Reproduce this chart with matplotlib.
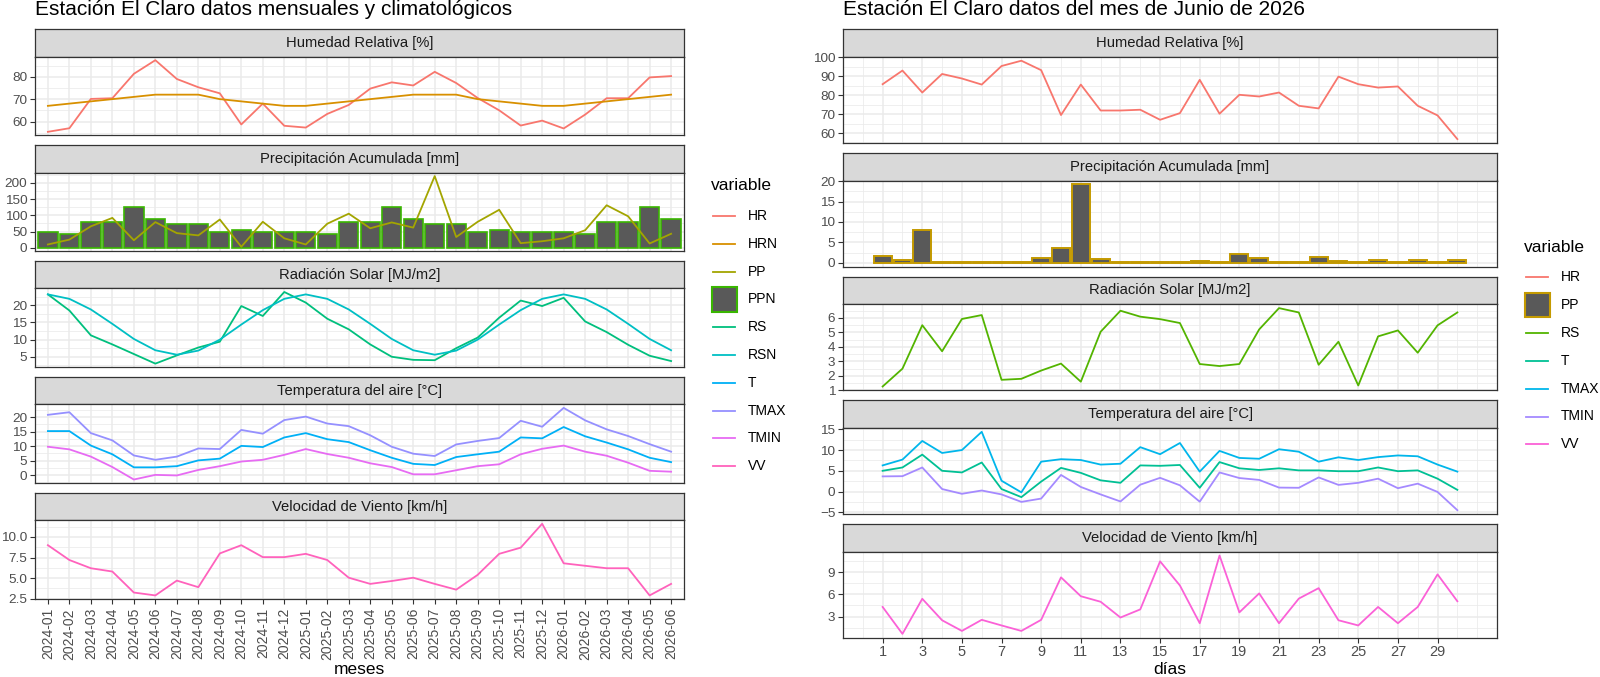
import matplotlib
matplotlib.use("Agg")
import matplotlib.pyplot as plt
from matplotlib.ticker import MultipleLocator, FixedLocator, FormatStrFormatter
from matplotlib.patches import Rectangle
from matplotlib.lines import Line2D
import numpy as np

plt.rcParams['font.family'] = ['Liberation Sans', 'DejaVu Sans']

# ---------------- monthly data ----------------
meses = ["2024-01", "2024-02", "2024-03", "2024-04", "2024-05", "2024-06",
         "2024-07", "2024-08", "2024-09", "2024-10", "2024-11", "2024-12",
         "2025-01", "2025-02", "2025-03", "2025-04", "2025-05", "2025-06",
         "2025-07", "2025-08", "2025-09", "2025-10", "2025-11", "2025-12",
         "2026-01", "2026-02", "2026-03", "2026-04", "2026-05", "2026-06"]
HR = [55.4, 57.0, 70.1, 70.4, 81.3, 87.4, 79.0, 75.3, 72.6, 58.7, 68.0, 58.1,
      57.3, 63.4, 67.4, 74.7, 77.5, 76.1, 82.2, 77.2, 70.5, 65.0, 58.2, 60.4,
      56.9, 63.1, 70.4, 70.4, 79.7, 80.3]
HRN = [67, 68, 69, 70, 71, 72, 72, 72, 70, 69, 68, 67,
       67, 68, 69, 70, 71, 72, 72, 72, 70, 69, 68, 67,
       67, 68, 69, 70, 71, 72]
PP = [10, 25, 66, 92, 23, 79, 45, 38, 87, 3, 80, 29,
      10, 74, 105, 60, 78, 62, 221, 33, 80, 117, 14, 20,
      29, 54, 131, 97, 13, 43]
PPN = [48, 41, 80, 80, 126, 88, 72, 72, 48, 56, 48, 48,
       48, 41, 80, 80, 126, 88, 72, 72, 48, 56, 48, 48,
       48, 41, 80, 80, 126, 88]
RS = [23.2, 18.5, 11.25, 8.6, 5.8, 3.0, 5.4, 7.7, 9.4, 19.8, 16.9, 23.9,
      20.8, 16.1, 13.0, 8.6, 5.0, 4.1, 4.0, 7.5, 10.6, 16.4, 21.4, 19.8,
      22.2, 15.3, 12.2, 8.5, 5.3, 3.75]
RSN = [23.2, 21.9, 18.8, 14.6, 10.2, 6.9, 5.6, 6.8, 10.0, 14.4, 18.6, 21.9,
       23.2, 21.9, 18.8, 14.6, 10.2, 6.9, 5.6, 6.8, 10.0, 14.4, 18.6, 21.9,
       23.2, 21.9, 18.8, 14.6, 10.2, 6.9]
T = [15.2, 15.2, 10.2, 7.2, 2.7, 2.7, 3.1, 5.1, 5.7, 10.1, 9.7, 13.0,
     14.5, 12.4, 11.4, 8.6, 6.0, 3.9, 3.5, 6.25, 7.2, 8.1, 13.0, 12.7,
     16.6, 13.4, 11.25, 8.9, 6.0, 4.5]
TMAX = [20.8, 21.7, 14.5, 12.0, 6.8, 5.3, 6.4, 9.2, 9.0, 15.6, 14.3, 19.0,
        20.2, 17.8, 16.9, 13.75, 9.8, 7.4, 6.6, 10.6, 11.8, 12.8, 18.75, 16.7,
        23.2, 18.9, 15.8, 13.5, 10.7, 8.1]
TMIN = [9.8, 8.9, 6.4, 2.8, -1.5, 0.1, -0.1, 1.8, 3.1, 4.7, 5.3, 7.0,
        9.0, 7.3, 6.0, 4.1, 2.8, 0.3, 0.3, 1.7, 3.1, 3.75, 7.2, 9.1,
        10.2, 8.1, 6.7, 4.3, 1.5, 1.2]
VV = [9.0, 7.2, 6.2, 5.8, 3.25, 2.9, 4.7, 3.9, 8.0, 9.0, 7.55, 7.55,
      7.95, 7.2, 5.05, 4.3, 4.65, 5.05, 4.3, 3.6, 5.4, 7.95, 8.7, 11.6,
      6.8, 6.5, 6.2, 6.2, 2.9, 4.3]

# ---------------- daily data (June 2026) ----------------
dias = list(range(1, 31))
HR_d = [85.8, 93.0, 81.4, 91.2, 88.8, 85.6, 95.4, 98.2, 93.2, 69.5, 85.6, 71.9,
        71.9, 72.3, 67.0, 70.5, 88.1, 70.2, 80.2, 79.3, 81.4, 74.4, 73.0, 89.8,
        85.8, 84.0, 84.6, 74.4, 69.3, 56.8]
PP_d = [1.6, 0.65, 8.1, 0.15, 0.3, 0.1, 0.1, 0.3, 1.1, 3.6, 19.2, 1.0,
        0.1, 0.1, 0.1, 0.1, 0.5, 0.2, 2.1, 1.1, 0.1, 0.2, 1.5, 0.5,
        0.1, 0.65, 0.1, 0.8, 0.1, 0.65]
RS_d = [1.27, 2.5, 5.5, 3.7, 5.93, 6.2, 1.73, 1.8, 2.37, 2.85, 1.6, 5.05,
        6.5, 6.09, 5.92, 5.65, 2.82, 2.68, 2.82, 5.21, 6.68, 6.38, 2.77, 4.36,
        1.34, 4.73, 5.14, 3.6, 5.49, 6.38]
T_d = [5.0, 5.8, 8.9, 5.0, 4.6, 7.0, 0.6, -1.35, 2.4, 5.7, 4.5, 2.7,
       2.1, 6.3, 6.2, 6.4, 0.9, 7.1, 5.6, 5.2, 5.6, 5.1, 5.1, 4.9,
       4.9, 5.8, 4.9, 5.1, 3.1, 0.4]
TMAX_d = [6.3, 7.7, 12.2, 9.3, 10.0, 14.4, 2.6, -0.2, 7.2, 7.8, 7.6, 6.5,
          6.7, 10.7, 9.0, 11.7, 4.8, 9.8, 8.1, 7.9, 10.2, 9.6, 7.2, 8.25,
          7.6, 8.3, 8.7, 8.5, 6.5, 4.8]
TMIN_d = [3.65, 3.7, 5.8, 0.6, -0.55, 0.25, -0.7, -2.5, -1.7, 4.0, 1.1, -0.7,
          -2.4, 1.65, 3.3, 1.5, -2.45, 4.6, 3.25, 2.8, 0.95, 0.9, 3.4, 1.6,
          2.1, 3.1, 0.8, 1.9, -0.1, -4.5]
VV_d = [4.3, 0.66, 5.4, 2.5, 1.06, 2.56, 1.8, 1.06, 2.56, 8.3, 5.75, 5.0,
        2.87, 3.97, 10.46, 7.2, 2.1, 11.25, 3.57, 6.13, 2.1, 5.43, 6.84, 2.5,
        1.8, 4.3, 2.1, 4.3, 8.7, 5.07]

# ---------------- styling ----------------
COL_L = {'HR': '#F8766D', 'HRN': '#D89000', 'PP': '#A3A500', 'PPN': '#39B600',
         'RS': '#00BF7D', 'RSN': '#00BFC4', 'T': '#00B0F6', 'TMAX': '#9590FF',
         'TMIN': '#E76BF3', 'VV': '#FF62BC'}
COL_R = {'HR': '#F8766D', 'PP': '#C49A00', 'RS': '#53B400', 'T': '#00C094',
         'TMAX': '#00B6EB', 'TMIN': '#A58AFF', 'VV': '#FB61D7'}
BAR_FILL = '#595959'
BORDER = '#333333'
GRID = '#EBEBEB'
TICKC = '#4D4D4D'
LW = 1.3

W, H = 1600, 677
fig = plt.figure(figsize=(W / 100, H / 100), dpi=100)


def ax_px(x0, y0, x1, y1):
    return fig.add_axes([x0 / W, 1 - y1 / H, (x1 - x0) / W, (y1 - y0) / H])


def make_strip(x0, x1, y0, y1, label):
    s = ax_px(x0, y0, x1, y1)
    s.set_facecolor('#D9D9D9')
    s.set_xticks([]); s.set_yticks([])
    for sp in s.spines.values():
        sp.set_color(BORDER); sp.set_linewidth(0.9)
    s.text(0.5, 0.5, label, ha='center', va='center', fontsize=10.6,
           color='#1A1A1A', transform=s.transAxes)
    return s


def style_panel(ax, xlim, ymaj, ymin, fmt=None):
    ax.set_xlim(*xlim)
    ax.use_sticky_edges = False
    ax.margins(y=0.05)
    for sp in ax.spines.values():
        sp.set_color(BORDER); sp.set_linewidth(0.9)
    ax.set_axisbelow(True)
    ax.yaxis.set_major_locator(MultipleLocator(ymaj))
    ax.yaxis.set_minor_locator(MultipleLocator(ymin))
    if fmt:
        ax.yaxis.set_major_formatter(FormatStrFormatter(fmt))
    ax.grid(which='major', color=GRID, linewidth=1.1)
    ax.grid(which='minor', color=GRID, linewidth=0.55)
    ax.tick_params(axis='y', which='major', length=3.5, width=0.8, color=BORDER,
                   labelsize=9.7, labelcolor=TICKC, pad=2)
    ax.tick_params(axis='y', which='minor', length=0)
    ax.tick_params(axis='x', which='both', length=0, labelbottom=False)


# ================= LEFT CHART =================
LX0, LX1 = 35, 684
xl = np.arange(len(meses))
left_panels = [
    ("Humedad Relativa [%]", [('line', 'HR', HR), ('line', 'HRN', HRN)], 10, 5, None),
    ("Precipitación Acumulada [mm]", [('bar', 'PPN', PPN), ('line', 'PP', PP)], 50, 25, None),
    ("Radiación Solar [MJ/m2]", [('line', 'RS', RS), ('line', 'RSN', RSN)], 5, 2.5, None),
    ("Temperatura del aire [°C]", [('line', 'T', T), ('line', 'TMAX', TMAX), ('line', 'TMIN', TMIN)], 5, 2.5, None),
    ("Velocidad de Viento [km/h]", [('line', 'VV', VV)], 2.5, 1.25, '%.1f'),
]
for k, (title, series, ymaj, ymin, fmt) in enumerate(left_panels):
    st = 29.3 + 115.9 * k
    make_strip(LX0, LX1, st, st + 27.3, title)
    ax = ax_px(LX0, st + 27.3, LX1, st + 27.3 + 78.8)
    for kind, name, vals in series:
        if kind == 'bar':
            ax.bar(xl, vals, width=0.9, color=BAR_FILL, edgecolor=COL_L[name],
                   linewidth=1.2, zorder=2)
        else:
            ax.plot(xl, vals, color=COL_L[name], linewidth=LW, zorder=3)
    style_panel(ax, (-0.6, len(meses) - 0.4), ymaj, ymin, fmt)
    ax.xaxis.set_major_locator(FixedLocator(xl))
    ax.xaxis.set_minor_locator(FixedLocator([]))
    if k == len(left_panels) - 1:
        ax.set_xticks(xl)
        ax.set_xticklabels(meses, rotation=90)
        ax.tick_params(axis='x', which='major', length=3.5, width=0.8, color=BORDER,
                       labelsize=10, labelcolor=TICKC, labelbottom=True, pad=3)

fig.text(LX0 / W, 1 - 9.5 / H, "Estación El Claro datos mensuales y climatológicos",
         fontsize=15, ha='left', va='center', color='black')
fig.text((LX0 + LX1) / 2 / W, 1 - 669 / H, "meses", fontsize=12.5, ha='center',
         va='center', color='black')

# ================= RIGHT CHART =================
RX0, RX1 = 843, 1497
right_panels = [
    ("Humedad Relativa [%]", [('line', 'HR', HR_d)], 10, 5),
    ("Precipitación Acumulada [mm]", [('bar', 'PP', PP_d)], 5, 2.5),
    ("Radiación Solar [MJ/m2]", [('line', 'RS', RS_d)], 1, 0.5),
    ("Temperatura del aire [°C]", [('line', 'T', T_d), ('line', 'TMAX', TMAX_d), ('line', 'TMIN', TMIN_d)], 5, 2.5),
    ("Velocidad de Viento [km/h]", [('line', 'VV', VV_d)], 3, 1.5),
]
for k, (title, series, ymaj, ymin) in enumerate(right_panels):
    st = 29.3 + 123.7 * k
    make_strip(RX0, RX1, st, st + 27.5, title)
    ax = ax_px(RX0, st + 27.5, RX1, st + 27.5 + 86.2)
    for kind, name, vals in series:
        if kind == 'bar':
            ax.bar(dias, vals, width=0.9, color=BAR_FILL, edgecolor=COL_R[name],
                   linewidth=1.4, zorder=2)
        else:
            ax.plot(dias, vals, color=COL_R[name], linewidth=LW, zorder=3)
    style_panel(ax, (-1, 32), ymaj, ymin)
    ax.xaxis.set_major_locator(FixedLocator(dias[::2]))
    ax.xaxis.set_minor_locator(MultipleLocator(1))
    if k == len(right_panels) - 1:
        ax.tick_params(axis='x', which='major', length=3.5, width=0.8, color=BORDER,
                       labelsize=10.5, labelcolor=TICKC, labelbottom=True, pad=2)

fig.text(RX0 / W, 1 - 9.5 / H, "Estación El Claro datos del mes de Junio de 2026",
         fontsize=15, ha='left', va='center', color='black')
fig.text((RX0 + RX1) / 2 / W, 1 - 669 / H, "días", fontsize=12.5, ha='center',
         va='center', color='black')

# ================= LEGENDS =================
lg = fig.add_axes([0, 0, 1, 1])
lg.set_xlim(0, W); lg.set_ylim(H, 0); lg.axis('off')


def draw_legend(xr, ytitle, yfirst, step, names, colors, barname):
    lg.text(xr + 27, ytitle, "variable", fontsize=12.5, ha='left', va='center')
    for i, nm in enumerate(names):
        yc = yfirst + i * step
        if nm == barname:
            lg.add_patch(Rectangle((xr + 28, yc - 12.3), 24.6, 24.6, facecolor=BAR_FILL,
                                   edgecolor=colors[nm], linewidth=1.5))
        else:
            lg.add_line(Line2D([xr + 29, xr + 51], [yc, yc], color=colors[nm], linewidth=LW))
        lg.text(xr + 64, yc, nm, fontsize=10, ha='left', va='center', color='black')


draw_legend(LX1, 185, 216, 27.8, list(COL_L.keys()), COL_L, 'PPN')
draw_legend(RX1, 247, 277, 27.9, list(COL_R.keys()), COL_R, 'PP')

fig.savefig("out.png", dpi=100, facecolor='white')
